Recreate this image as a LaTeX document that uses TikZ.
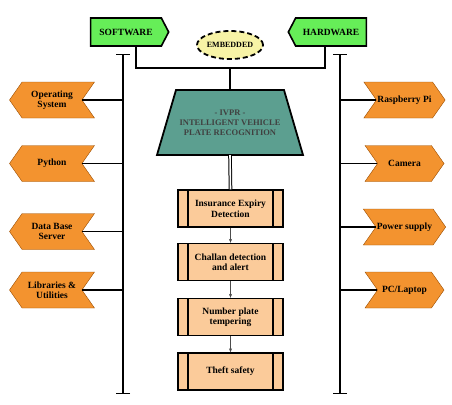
\documentclass[tikz,border=0pt]{standalone}
\usepackage{fontspec}
\setmainfont{Liberation Serif}
\usetikzlibrary{arrows.meta, shapes, positioning}
\definecolor{tagGreen}{HTML}{66EE58}
\definecolor{tagOrange}{HTML}{F3932F}
\definecolor{boxPeach}{HTML}{FBCB9A}
\definecolor{ivprTeal}{HTML}{5C9F90}
\definecolor{embYellow}{HTML}{F7F3A6}
\tikzset{
  greentag/.style = {
    signal, signal pointer angle=125, draw, line width=1.6pt, fill=tagGreen,
    minimum width=78pt, minimum height=28pt, inner sep=2pt,
    font=\fontsize{9.5}{10}\selectfont\bfseries
  },
  orangetag/.style = {
    signal, signal pointer angle=110, draw=orange!60!black, fill=tagOrange,
    minimum height=36pt, align=center, inner sep=1pt,
    font=\fontsize{9.5}{10.5}\selectfont\bfseries
  },
  procbox/.style = {
    rectangle, draw, line width=1.4pt, fill=boxPeach,
    minimum width=105pt, minimum height=37pt, align=center,
    font=\fontsize{9.5}{10.5}\selectfont\bfseries,
    path picture={
      \draw[line width=1.2pt]
        ([xshift=10pt]path picture bounding box.north west) --
        ([xshift=10pt]path picture bounding box.south west)
        ([xshift=-10pt]path picture bounding box.north east) --
        ([xshift=-10pt]path picture bounding box.south east);
    }
  },
  spine/.style = {line width=1.4pt, {Bar[width=14pt,line width=1.4pt]}-{Bar[width=14pt,line width=1.4pt]}},
  branch/.style = {line width=1.6pt},
  flow/.style = {->, >={Stealth[length=4pt,width=3pt]}, draw=black!70, thin}
}

\begin{document}
\begin{tikzpicture}[x=1pt, y=-1pt]
  \useasboundingbox (0,0) rectangle (452,404);

  % Top tags
  \node[greentag, signal to=east] (sw) at (126,32) {SOFTWARE};
  \node[greentag, signal to=west] (hw) at (331,32) {HARDWARE};
  \node[ellipse, draw, dash pattern=on 5pt off 3pt, line width=1.8pt, fill=embYellow,
        minimum width=66pt, minimum height=28pt, inner sep=0pt,
        font=\fontsize{8}{9}\selectfont\bfseries] (emb) at (230,45) {EMBEDDED};

  % Main block
  \draw[line width=1.8pt, fill=ivprTeal, line join=miter]
    (176,90) -- (284,90) -- (303,155) -- (157,155) -- cycle;
  \node[minimum width=146pt, minimum height=65pt, align=center, text=black!75,
        font=\fontsize{8.5}{10}\selectfont\bfseries] (ivpr) at (230,122.5)
        {- IVPR -\\INTELLIGENT VEHICLE\\PLATE RECOGNITION};
  \coordinate (hub) at (230,68);
  \draw[line width=1.4pt] ([xshift=10pt]sw.south) |- (hub) -| ([xshift=-6pt]hw.south);
  \draw[line width=1.4pt] (hub) -- (ivpr.north);

  % Process chain
  \node[procbox] (ins) at (230.5,208.5) {Insurance Expiry\\Detection};
  \node[procbox] (chl) at (230.5,262) {Challan detection\\and alert};
  \node[procbox] (npt) at (230.5,317) {Number plate\\tempering};
  \node[procbox] (thf) at (230.5,371.5) {Theft safety};
  \draw[double, line width=1pt, double distance=1.6pt] (ivpr.south) -- (ins.north);
  \draw[flow] (ins) -- (chl);
  \draw[flow] (chl) -- (npt);
  \draw[flow] (npt) -- (thf);

  % Software side
  \coordinate (lt) at (123,54);
  \coordinate (lb) at (123,394);
  \draw[spine] (lt) -- (lb);
  \node[orangetag, signal to=west, signal from=east, minimum width=85pt] (os) at (52,100) {Operating\\System};
  \node[orangetag, signal to=west, signal from=east, minimum width=85pt] (py) at (52,163.5) {Python};
  \node[orangetag, signal to=west, signal from=east, minimum width=85pt] (db) at (52,231.5) {Data Base\\Server};
  \node[orangetag, signal to=west, signal from=east, minimum width=85pt] (lib) at (52,290) {Libraries \&\\Utilities};
  \foreach \t in {os, py, db, lib}
    \draw[branch] (\t.east) -- (\t.east -| lt);

  % Hardware side
  \coordinate (rt) at (340,54);
  \coordinate (rb) at (340,394);
  \draw[spine] (rt) -- (rb);
  \node[orangetag, signal to=east, signal from=west, minimum width=79pt] (rpi) at (404.5,100) {Raspberry Pi};
  \node[orangetag, signal to=east, signal from=west, minimum width=79pt] (cam) at (404.5,163.5) {Camera};
  \node[orangetag, signal to=east, signal from=west, minimum width=79pt] (pwr) at (404.5,227) {Power supply};
  \node[orangetag, signal to=east, signal from=west, minimum width=79pt] (pc) at (404.5,290) {PC/Laptop};
  \foreach \t in {rpi, cam, pwr, pc}
    \draw[branch] (\t.west -| rt) -- (\t.west);

\end{tikzpicture}
\end{document}
